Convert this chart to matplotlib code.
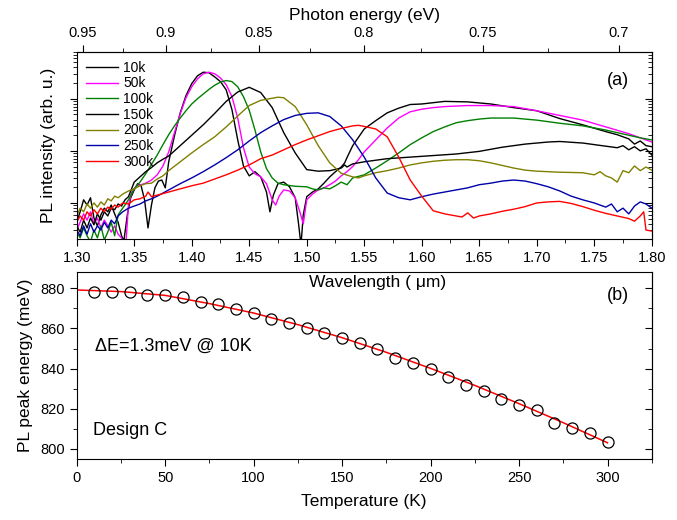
import matplotlib
matplotlib.use('Agg')
import matplotlib.pyplot as plt
import numpy as np
from matplotlib.ticker import (MultipleLocator, FixedLocator, NullFormatter,
                               FormatStrFormatter, LogLocator)

plt.rcParams['font.family'] = ['Liberation Sans', 'DejaVu Sans']
plt.rcParams['font.size'] = 10.5

# ---- (a) PL spectra: wavelength (um) and log10 of PL intensity (arb. u.) ----
wl_10k = [1.300, 1.303, 1.306, 1.309, 1.312, 1.315, 1.318, 1.321, 1.324, 1.327, 1.330, 1.333, 1.336, 1.339,
          1.341, 1.344, 1.347, 1.350, 1.353, 1.356, 1.359, 1.362, 1.365, 1.368, 1.371, 1.374, 1.377, 1.380,
          1.385, 1.390, 1.395, 1.400, 1.405, 1.410, 1.415, 1.420, 1.425, 1.430, 1.435, 1.440, 1.445, 1.450,
          1.455, 1.460, 1.465, 1.468, 1.471, 1.475, 1.480, 1.485, 1.490, 1.493, 1.495, 1.497, 1.500, 1.505,
          1.510, 1.515, 1.520, 1.525, 1.530, 1.533, 1.535, 1.540, 1.550, 1.560, 1.570, 1.580, 1.590, 1.600,
          1.620, 1.640, 1.660, 1.680, 1.700, 1.720, 1.740, 1.760, 1.770, 1.780, 1.785, 1.790, 1.795, 1.800]
logI_10k = [0.63, 0.83, 1.06, 0.96, 1.10, 0.71, 0.56, 0.77, 0.90, 0.83, 0.96, 0.79, 0.63, 0.37,
            0.27, 0.77, 1.10, 1.25, 1.37, 1.33, 1.06, 0.52, 0.96, 1.29, 1.42, 1.44, 1.29, 1.79,
            2.29, 2.73, 3.06, 3.29, 3.44, 3.51, 3.50, 3.42, 3.33, 3.17, 2.79, 2.21, 1.71, 1.52,
            1.60, 1.50, 1.21, 0.83, 1.15, 1.37, 1.40, 1.31, 1.10, 0.58, 0.19, 0.77, 1.12, 1.21,
            1.27, 1.38, 1.50, 1.60, 1.69, 1.77, 1.87, 2.10, 2.42, 2.58, 2.73, 2.82, 2.89, 2.90,
            2.95, 2.94, 2.90, 2.83, 2.77, 2.62, 2.50, 2.37, 2.31, 2.23, 2.13, 2.19, 2.10, 2.08]

wl_50k = [1.300, 1.303, 1.306, 1.309, 1.312, 1.315, 1.318, 1.321, 1.324, 1.327, 1.330, 1.333, 1.336, 1.339,
          1.341, 1.343, 1.345, 1.348, 1.352, 1.356, 1.360, 1.365, 1.370, 1.375, 1.380, 1.385, 1.390, 1.395,
          1.400, 1.405, 1.410, 1.415, 1.420, 1.425, 1.430, 1.435, 1.440, 1.445, 1.450, 1.455, 1.460, 1.465,
          1.470, 1.473, 1.476, 1.480, 1.485, 1.490, 1.494, 1.497, 1.500, 1.505, 1.510, 1.515, 1.520, 1.525,
          1.530, 1.535, 1.540, 1.545, 1.550, 1.560, 1.570, 1.580, 1.590, 1.600, 1.610, 1.620, 1.640, 1.660,
          1.680, 1.700, 1.720, 1.740, 1.760, 1.780, 1.790, 1.800]
logI_50k = [0.48, 0.63, 0.79, 0.67, 0.83, 0.60, 0.71, 0.52, 0.67, 0.56, 0.44, 0.56, 0.40, 0.33,
            0.19, 0.29, 0.96, 1.21, 1.33, 1.35, 1.38, 1.44, 1.54, 1.71, 1.98, 2.35, 2.71, 3.02,
            3.23, 3.38, 3.48, 3.51, 3.48, 3.40, 3.27, 3.04, 2.63, 2.06, 1.69, 1.56, 1.50, 1.37,
            1.06, 0.96, 1.13, 1.25, 1.23, 1.10, 0.83, 0.60, 1.06, 1.17, 1.25, 1.29, 1.35, 1.42,
            1.52, 1.60, 1.70, 1.83, 1.98, 2.21, 2.44, 2.63, 2.75, 2.80, 2.83, 2.85, 2.87, 2.87,
            2.85, 2.77, 2.68, 2.59, 2.46, 2.33, 2.25, 2.17]

wl_100k = [1.300, 1.303, 1.306, 1.309, 1.312, 1.315, 1.318, 1.321, 1.324, 1.327, 1.330, 1.333, 1.336, 1.339,
           1.342, 1.345, 1.350, 1.355, 1.360, 1.365, 1.370, 1.375, 1.380, 1.385, 1.390, 1.395, 1.400, 1.405,
           1.410, 1.415, 1.420, 1.425, 1.430, 1.435, 1.440, 1.445, 1.450, 1.455, 1.460, 1.465, 1.470, 1.475,
           1.480, 1.490, 1.500, 1.505, 1.510, 1.515, 1.520, 1.525, 1.530, 1.535, 1.540, 1.550, 1.560, 1.570,
           1.580, 1.590, 1.600, 1.610, 1.620, 1.630, 1.640, 1.650, 1.660, 1.680, 1.700, 1.720, 1.740, 1.760,
           1.780, 1.790, 1.800]
logI_100k = [0.44, 0.33, 0.52, 0.37, 0.25, 0.48, 0.33, 0.56, 0.29, 0.44, 0.63, 0.37, 0.77, 0.87,
             0.96, 1.06, 1.27, 1.40, 1.56, 1.74, 1.92, 2.12, 2.31, 2.48, 2.63, 2.77, 2.90, 3.00,
             3.09, 3.18, 3.26, 3.32, 3.35, 3.33, 3.23, 3.04, 2.78, 2.40, 1.98, 1.66, 1.48, 1.38,
             1.35, 1.32, 1.31, 1.27, 1.25, 1.29, 1.27, 1.33, 1.40, 1.35, 1.48, 1.54, 1.67, 1.81,
             1.96, 2.12, 2.25, 2.37, 2.46, 2.54, 2.58, 2.61, 2.63, 2.63, 2.59, 2.53, 2.48, 2.40,
             2.30, 2.25, 2.21]

wl_150k = [1.300, 1.303, 1.306, 1.309, 1.312, 1.315, 1.318, 1.321, 1.324, 1.327, 1.330, 1.333, 1.336, 1.339,
           1.342, 1.345, 1.350, 1.355, 1.360, 1.365, 1.370, 1.375, 1.380, 1.385, 1.390, 1.400, 1.410, 1.420,
           1.430, 1.440, 1.450, 1.460, 1.470, 1.480, 1.490, 1.500, 1.510, 1.520, 1.530, 1.533, 1.535, 1.540,
           1.550, 1.570, 1.590, 1.610, 1.630, 1.650, 1.670, 1.690, 1.710, 1.720, 1.740, 1.760, 1.770, 1.775,
           1.780, 1.785, 1.790, 1.795, 1.800]
logI_150k = [0.56, 0.44, 0.67, 0.52, 0.71, 0.58, 0.79, 0.67, 0.83, 0.75, 0.90, 0.87, 0.98, 0.94,
             1.06, 1.12, 1.40, 1.50, 1.60, 1.68, 1.77, 1.84, 1.90, 2.00, 2.10, 2.30, 2.50, 2.72,
             2.95, 3.13, 3.22, 3.12, 2.83, 2.35, 1.96, 1.64, 1.61, 1.62, 1.67, 1.73, 1.69, 1.75,
             1.79, 1.85, 1.88, 1.91, 1.94, 1.99, 2.07, 2.13, 2.17, 2.18, 2.15, 2.09, 2.06, 2.10,
             2.02, 2.08, 2.00, 2.04, 1.92]

wl_200k = [1.300, 1.303, 1.306, 1.309, 1.312, 1.315, 1.318, 1.321, 1.324, 1.327, 1.330, 1.333, 1.336, 1.340,
           1.345, 1.350, 1.355, 1.360, 1.365, 1.370, 1.375, 1.380, 1.390, 1.400, 1.410, 1.420, 1.430, 1.440,
           1.450, 1.460, 1.470, 1.475, 1.480, 1.490, 1.500, 1.510, 1.520, 1.530, 1.540, 1.545, 1.550, 1.560,
           1.570, 1.580, 1.590, 1.600, 1.610, 1.620, 1.630, 1.640, 1.650, 1.660, 1.670, 1.680, 1.690, 1.700,
           1.720, 1.740, 1.750, 1.755, 1.760, 1.765, 1.770, 1.775, 1.780, 1.785, 1.790, 1.795, 1.800]
logI_200k = [0.75, 0.90, 0.83, 0.98, 0.90, 1.00, 0.92, 1.02, 0.96, 1.08, 1.04, 1.13, 1.10, 1.17,
             1.23, 1.27, 1.33, 1.37, 1.38, 1.46, 1.52, 1.62, 1.79, 1.96, 2.12, 2.27, 2.46, 2.67,
             2.87, 2.97, 3.01, 3.03, 3.02, 2.85, 2.50, 2.10, 1.77, 1.57, 1.50, 1.48, 1.52, 1.58,
             1.62, 1.67, 1.73, 1.77, 1.80, 1.82, 1.83, 1.83, 1.81, 1.77, 1.72, 1.67, 1.63, 1.61,
             1.59, 1.58, 1.54, 1.60, 1.52, 1.48, 1.40, 1.62, 1.58, 1.71, 1.62, 1.69, 1.63]

wl_250k = [1.300, 1.303, 1.306, 1.309, 1.312, 1.315, 1.318, 1.321, 1.324, 1.327, 1.330, 1.333, 1.336,
           1.340, 1.345, 1.350, 1.355, 1.360, 1.365, 1.370,
           1.380, 1.390, 1.400, 1.410, 1.420, 1.430, 1.440, 1.450, 1.460, 1.470, 1.480, 1.490, 1.500,
           1.510, 1.520, 1.530, 1.540, 1.550, 1.560, 1.570, 1.580, 1.590, 1.600, 1.610, 1.620, 1.630,
           1.640, 1.650, 1.660, 1.670, 1.680, 1.690, 1.700, 1.710, 1.720, 1.730, 1.740, 1.750, 1.760,
           1.765, 1.770, 1.775, 1.780, 1.785, 1.790, 1.795, 1.800]
logI_250k = [0.48, 0.37, 0.56, 0.40, 0.60, 0.44, 0.56, 0.48, 0.63, 0.52, 0.67, 0.60, 0.75,
             0.83, 0.90, 0.94, 0.98, 1.04, 1.08, 1.13,
             1.25, 1.37, 1.48, 1.60, 1.73, 1.87, 2.02, 2.19, 2.35, 2.48, 2.60, 2.68, 2.72,
             2.73, 2.66, 2.48, 2.21, 1.88, 1.48, 1.19, 1.10, 1.06, 1.12, 1.17, 1.21, 1.25,
             1.29, 1.35, 1.38, 1.42, 1.44, 1.42, 1.37, 1.31, 1.23, 1.13, 1.06, 1.00, 0.92,
             0.98, 0.83, 0.90, 0.79, 0.94, 1.02, 0.98, 0.90]

wl_300k = [1.300, 1.303, 1.306, 1.309, 1.312, 1.315, 1.318, 1.321, 1.324, 1.327, 1.330, 1.333, 1.336,
           1.340, 1.345, 1.350, 1.355, 1.360, 1.362, 1.365, 1.370,
           1.380, 1.390, 1.400, 1.410, 1.420, 1.430, 1.440, 1.450, 1.460, 1.470, 1.480, 1.490, 1.500,
           1.510, 1.520, 1.530, 1.540, 1.545, 1.550,
           1.560, 1.570, 1.580, 1.590, 1.600, 1.610, 1.620, 1.630, 1.635, 1.640, 1.645, 1.650,
           1.660, 1.670, 1.680, 1.690, 1.700, 1.710, 1.720, 1.730, 1.740, 1.750, 1.760, 1.770, 1.780,
           1.785, 1.790, 1.793, 1.795, 1.800]
logI_300k = [0.63, 0.75, 0.67, 0.83, 0.75, 0.87, 0.79, 0.90, 0.83, 0.92, 0.88, 0.96, 0.92,
             1.00, 0.98, 1.06, 1.08, 1.13, 1.21, 1.12, 1.15,
             1.21, 1.27, 1.33, 1.38, 1.46, 1.54, 1.63, 1.73, 1.85, 1.92, 2.02, 2.12, 2.21,
             2.29, 2.37, 2.43, 2.48, 2.49, 2.47,
             2.42, 2.27, 1.88, 1.44, 1.13, 0.85, 0.79, 0.75, 0.73, 0.81, 0.71, 0.75,
             0.79, 0.84, 0.88, 0.93, 1.00, 1.02, 1.03, 0.99, 0.93, 0.86, 0.80, 0.75, 0.70,
             0.65, 0.75, 0.83, 0.48, 0.46]

series_labels = ['10k', '50k', '100k', '150k', '200k', '250k', '300k']
series_wl = [wl_10k, wl_50k, wl_100k, wl_150k, wl_200k, wl_250k, wl_300k]
series_logI = [logI_10k, logI_50k, logI_100k, logI_150k, logI_200k, logI_250k, logI_300k]
series_colors = ['black', '#FF00FF', '#008000', 'black', '#808000', '#0000A8', '#FF0000']
energy_ticks = [0.95, 0.90, 0.85, 0.80, 0.75, 0.70]

# ---- (b) PL peak energy vs temperature ----
temperature = [10, 20, 30, 40, 50, 60, 70, 80, 90, 100, 110, 120, 130, 140, 150,
               160, 170, 180, 190, 200, 210, 220, 230, 240, 250, 260, 270, 280, 290, 300]
peak_energy = [878.0, 878.0, 878.3, 876.5, 876.5, 875.8, 873.3, 872.2, 869.7, 867.5,
               864.9, 862.5, 860.0, 857.9, 855.4, 852.6, 849.7, 845.1, 842.9, 839.8,
               835.6, 831.6, 828.9, 824.6, 821.8, 819.3, 813.0, 810.2, 807.7, 803.5]
fit_T = [0, 25, 50, 75, 100, 125, 150, 175, 200, 225, 250, 275, 300]
fit_E = [879.2, 878.4, 876.5, 872.4, 867.7, 861.9, 855.4, 848.1, 840.1, 831.6, 822.5, 813.0, 803.0]


def wl_to_ev(x):
    x = np.asarray(x, dtype=float)
    with np.errstate(divide='ignore', invalid='ignore'):
        return 1.2398 / x


fig = plt.figure(figsize=(6.77, 5.2), dpi=100)
ax1 = fig.add_axes([0.1133, 0.5404, 0.8494, 0.3602])
ax2 = fig.add_axes([0.1133, 0.1173, 0.8494, 0.3590])

# panel (a)
for wl, li, lab, col in zip(series_wl, series_logI, series_labels, series_colors):
    ax1.plot(wl, 10 ** np.array(li), color=col, lw=1.0, label=lab)

ax1.set_yscale('log')
ax1.set_xlim(1.30, 1.80)
ax1.set_ylim(10 ** 0.308, 10 ** 3.904)
ax1.xaxis.set_major_locator(MultipleLocator(0.05))
ax1.xaxis.set_minor_locator(MultipleLocator(0.025))
ax1.xaxis.set_major_formatter(FormatStrFormatter('%.2f'))
ax1.yaxis.set_major_locator(LogLocator(base=10))
ax1.yaxis.set_minor_locator(LogLocator(base=10, subs=np.arange(2, 10)))
ax1.yaxis.set_major_formatter(NullFormatter())
ax1.yaxis.set_minor_formatter(NullFormatter())
ax1.tick_params(which='both', direction='out', top=False, right=False)
ax1.tick_params(which='major', length=5)
ax1.tick_params(which='minor', length=3)
ax1.set_ylabel('PL intensity (arb. u.)', fontsize=12.5)
ax1.yaxis.set_label_coords(-0.036, 0.5)

top = ax1.secondary_xaxis('top', functions=(wl_to_ev, wl_to_ev))
top.xaxis.set_major_locator(FixedLocator(energy_ticks))
top.xaxis.set_minor_locator(FixedLocator([0.925, 0.875, 0.825, 0.775, 0.725]))
top.xaxis.set_major_formatter(FormatStrFormatter('%g'))
top.xaxis.set_minor_formatter(NullFormatter())
top.tick_params(which='both', direction='out')
top.tick_params(which='major', length=5)
top.tick_params(which='minor', length=3)
top.set_xlabel('Photon energy (eV)', fontsize=12.5)

right1 = ax1.secondary_yaxis('right')
right1.yaxis.set_major_locator(LogLocator(base=10))
right1.yaxis.set_minor_locator(LogLocator(base=10, subs=np.arange(2, 10)))
right1.yaxis.set_major_formatter(NullFormatter())
right1.yaxis.set_minor_formatter(NullFormatter())
right1.tick_params(which='both', direction='in')
right1.tick_params(which='major', length=5)
right1.tick_params(which='minor', length=3)

ax1.legend(loc='upper left', bbox_to_anchor=(0, 1), frameon=False, fontsize=10,
           handlelength=2.3, handletextpad=0.4, labelspacing=0.12, borderaxespad=0.25)
ax1.text(0.942, 0.845, '(a)', transform=ax1.transAxes, fontsize=13, ha='center', va='center')

# panel (b)
ax2.plot(fit_T, fit_E, color='red', lw=1.1, zorder=2)
ax2.plot(temperature, peak_energy, 'o', mfc='none', mec='black', mew=0.9, ms=8, zorder=3)
ax2.set_xlim(0, 325)
ax2.set_ylim(794.9, 888.0)
ax2.xaxis.set_major_locator(MultipleLocator(50))
ax2.xaxis.set_minor_locator(MultipleLocator(25))
ax2.yaxis.set_major_locator(MultipleLocator(20))
ax2.yaxis.set_minor_locator(MultipleLocator(10))
ax2.tick_params(which='both', direction='out', top=False, right=False)
ax2.tick_params(which='major', length=5)
ax2.tick_params(which='minor', length=3)
ax2.set_xlabel('Temperature (K)', fontsize=12.5)
ax2.xaxis.set_label_coords(0.5, -0.19)
ax2.set_ylabel('PL peak energy (meV)', fontsize=12.5)
ax2.yaxis.set_label_coords(-0.076, 0.5)

right2 = ax2.secondary_yaxis('right')
right2.yaxis.set_major_locator(MultipleLocator(20))
right2.yaxis.set_minor_locator(MultipleLocator(10))
right2.yaxis.set_major_formatter(NullFormatter())
right2.tick_params(which='both', direction='in')
right2.tick_params(which='major', length=5)
right2.tick_params(which='minor', length=3)

ax2.text(0.9405, 0.878, '(b)', transform=ax2.transAxes, fontsize=13, ha='center', va='center')
ax2.text(0.032, 0.603, 'ΔE=1.3meV @ 10K', transform=ax2.transAxes, fontsize=13, ha='left', va='center')
ax2.text(0.028, 0.155, 'Design C', transform=ax2.transAxes, fontsize=13, ha='left', va='center')

# wavelength label of panel (a) sits over the top of panel (b)
fig.text(0.558, 0.471, 'Wavelength ( μm)', fontsize=12.5, ha='center', va='top', zorder=5)

fig.savefig('out.png', dpi=100)
